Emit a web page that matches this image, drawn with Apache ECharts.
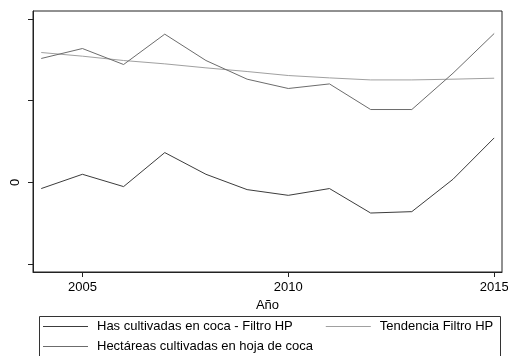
<!DOCTYPE html>
<html>
<head>
<meta charset="utf-8">
<script src="https://cdn.jsdelivr.net/npm/echarts@6/dist/echarts.min.js"></script>
<style>
html,body{margin:0;padding:0;background:#fff;}
#c{width:508px;height:356px;}
</style>
</head>
<body>
<div id="c"></div>
<script>
const years = [2004,2005,2006,2007,2008,2009,2010,2011,2012,2013,2014,2015];
const hasFiltroHP = [-0.077,0.098,-0.053,0.364,0.098,-0.090,-0.160,-0.077,-0.377,-0.360,0.037,0.544];
const tendenciaHP = [1.591,1.546,1.493,1.452,1.403,1.358,1.309,1.280,1.255,1.255,1.264,1.276];
const hectareas = [1.518,1.640,1.444,1.816,1.493,1.264,1.150,1.206,0.892,0.892,1.337,1.824];
const xTicks = [2005,2010,2015];
const yTicks = [-1,0,1,2];
const yLabeled = [0];
const names = ['Has cultivadas en coca - Filtro HP','Tendencia Filtro HP','Hectáreas cultivadas en hoja de coca'];

const font = 'Liberation Sans, Arial, sans-serif';
const pair = arr => years.map((y,i)=>[y,arr[i]]);

const chart = echarts.init(document.getElementById('c'), null, {renderer:'canvas'});
chart.setOption({
  animation:false,
  backgroundColor:'#fff',
  textStyle:{fontFamily:font},
  grid:{left:33,top:11,right:6,bottom:84,outerBoundsMode:'none',containLabel:false,show:true,borderColor:'#222',borderWidth:1,backgroundColor:'#fff'},
  xAxis:{
    type:'value',min:2003.8,max:2015.19,
    name:'Año',nameLocation:'middle',nameGap:23,
    nameTextStyle:{color:'#000',fontSize:13,fontFamily:font},
    axisLine:{show:true,onZero:false,lineStyle:{color:'#222',width:1}},
    axisTick:{show:true,length:5,customValues:xTicks,lineStyle:{color:'#222'}},
    axisLabel:{customValues:xTicks,color:'#000',fontSize:13,fontFamily:font,margin:9,formatter:v=>String(Math.round(v)),hideOverlap:false},
    splitLine:{show:false}
  },
  yAxis:{
    type:'value',min:-1.1,max:2.1,
    axisLine:{show:true,onZero:false,lineStyle:{color:'#222',width:1}},
    axisTick:{show:true,length:5,customValues:yTicks,lineStyle:{color:'#222'}},
    axisLabel:{customValues:yLabeled,rotate:90,color:'#000',fontSize:13,fontFamily:font,margin:11,formatter:v=>String(v)},
    splitLine:{show:false}
  },
  legend:[
    {data:[names[0],names[1]],left:43,top:320,padding:0,itemGap:33,itemWidth:45,itemHeight:1,icon:'rect',
     textStyle:{fontSize:13,color:'#000',fontFamily:font,padding:[0,0,0,4]}},
    {data:[names[2]],left:43,top:340,padding:0,itemWidth:45,itemHeight:1,icon:'rect',
     textStyle:{fontSize:13,color:'#000',fontFamily:font,padding:[0,0,0,4]}}
  ],
  graphic:[{type:'rect',left:37,top:314,shape:{width:461,height:60},style:{fill:'none',stroke:'#333',lineWidth:1},silent:true,z:-1}],
  series:[
    {name:names[0],type:'line',data:pair(hasFiltroHP),showSymbol:false,symbol:'none',color:'#3c3c3c',lineStyle:{width:1,color:'#3c3c3c'}},
    {name:names[1],type:'line',data:pair(tendenciaHP),showSymbol:false,symbol:'none',color:'#a0a0a0',lineStyle:{width:1,color:'#a0a0a0'}},
    {name:names[2],type:'line',data:pair(hectareas),showSymbol:false,symbol:'none',color:'#6c6c6c',lineStyle:{width:1,color:'#6c6c6c'}}
  ]
});
</script>
</body>
</html>
